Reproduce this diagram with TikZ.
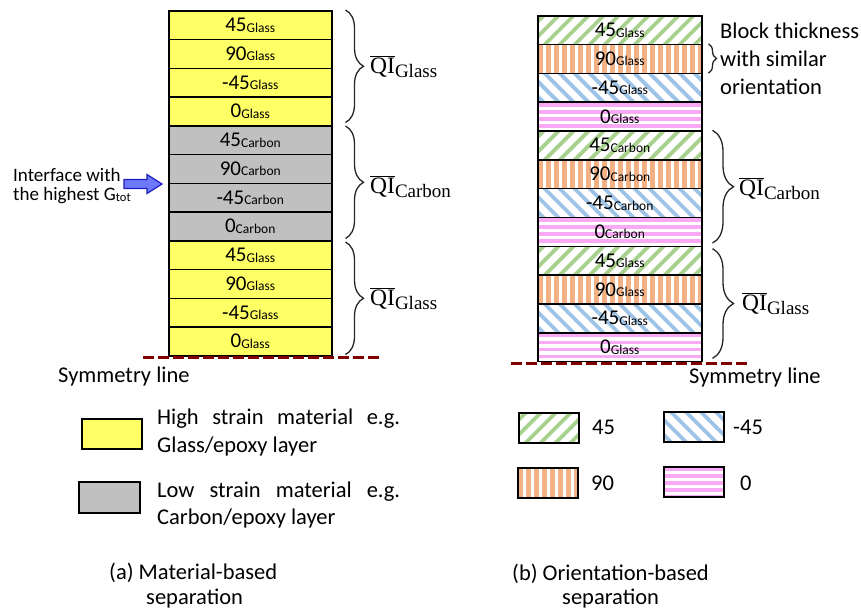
\documentclass[tikz,border=0pt]{standalone}
\usepackage{fontspec}
\setmainfont{Carlito}
\newfontfamily\qifont{Liberation Serif}
\usetikzlibrary{calc,decorations.pathreplacing}
\definecolor{glassY}{RGB}{255,255,102}
\definecolor{carbG}{RGB}{192,192,192}
\definecolor{grn}{RGB}{169,209,142}
\definecolor{org}{RGB}{244,177,131}
\definecolor{blu}{RGB}{157,195,230}
\definecolor{pnk}{RGB}{250,170,245}
\definecolor{symred}{RGB}{128,0,0}
\definecolor{arrfill}{RGB}{110,120,250}
\definecolor{arrdraw}{RGB}{30,30,190}
\newcommand\plylab[2]{{\fontsize{21}{21}\selectfont #1}{\fontsize{13.5}{13.5}\selectfont\raisebox{-0.5pt}{#2}}}
\newcommand\qilab[1]{{\qifont\fontsize{23.5}{23.5}\selectfont$\overline{\mbox{QI}}$}{\qifont\fontsize{19}{19}\selectfont\raisebox{-4pt}{#1}}}
\tikzset{
  ply/.style={draw=black, line width=1.5pt, minimum height=28.75pt, inner sep=0pt, anchor=north west},
  glassply/.style={fill=glassY},
  carbply/.style={fill=carbG},
  hA/.style={path picture={\foreach \k in {0,...,16} \draw[grn, line width=3.8pt] ($(path picture bounding box.south west)+(\k*15pt-40pt,-2pt)$) -- ++(60pt,60pt);}},
  hC/.style={path picture={\foreach \k in {0,...,16} \draw[blu, line width=3.8pt] ($(path picture bounding box.north west)+(\k*15pt-40pt,2pt)$) -- ++(60pt,-60pt);}},
  hB/.style={path picture={\foreach \k in {0,...,21} \draw[org, line width=5pt] ($(path picture bounding box.north west)+(\k*8pt+2.5pt,2pt)$) -- ++(0pt,-40pt);}},
  hD/.style={path picture={\foreach \k in {0,...,4} \draw[pnk, line width=3.6pt] ($(path picture bounding box.north west)+(-5pt,-\k*7pt-2.5pt)$) -- ++(180pt,0pt);}},
  legbox/.style={draw=black, line width=1.5pt, minimum width=60pt, minimum height=30pt, inner sep=0pt, anchor=north west},
  txt/.style={inner sep=0pt, anchor=base west, font=\fontsize{22.5}{27}\selectfont},
  itxt/.style={inner sep=0pt, anchor=base west, font=\fontsize{19}{22}\selectfont},
  qi/.style={inner sep=0pt, anchor=base west},
  brc/.style={decorate, decoration={brace, amplitude=#1}, line width=1.3pt, draw=black!85},
  symline/.style={draw=symred, line width=3pt, dash pattern=on 11pt off 4pt},
  blockarrow/.style={draw=arrdraw, fill=arrfill, line width=1.2pt, line join=miter}
}
\begin{document}
\begin{tikzpicture}[x=1pt,y=-1pt]
\useasboundingbox (0,0) rectangle (861,611);
% ---------- (a) material-based stack ----------
\foreach \ang/\mat/\sty [count=\i] in {45/Glass/glassply,90/Glass/glassply,-45/Glass/glassply,0/Glass/glassply,45/Carbon/carbply,90/Carbon/carbply,-45/Carbon/carbply,0/Carbon/carbply,45/Glass/glassply,90/Glass/glassply,-45/Glass/glassply,0/Glass/glassply}
  \node[ply,\sty,minimum width=163pt] (L\i) at (168,{10+(\i-1)*28.75}) {\raisebox{-2pt}{\plylab{\ang}{\mat}}};
\draw[symline] ([xshift=-25pt,yshift=-1pt]L12.south west) -- ([xshift=47pt,yshift=-1pt]L12.south east);
\draw[brc=18pt] ([xshift=13pt]L1.north east) -- ([xshift=13pt,yshift=4pt]L4.south east);
\draw[brc=18pt] ([xshift=13pt,yshift=-1pt]L5.north east) -- ([xshift=13pt,yshift=3pt]L8.south east);
\draw[brc=18pt] ([xshift=13pt,yshift=-2pt]L9.north east) -- ([xshift=13pt,yshift=2pt]L12.south east);
\node[qi] (qg1) at (370,73) {\qilab{Glass}};
\node[qi] (qc1) at (370,193) {\qilab{Carbon}};
\node[qi] (qg3) at (370,305) {\qilab{Glass}};
% interface arrow
\coordinate (tip) at ([xshift=-6pt]L6.south west);
\draw[blockarrow] (tip) -- ++(-15,-9.5) -- ++(0,5) -- ++(-23,0) -- ++(0,9) -- ++(23,0) -- ++(0,5) -- cycle;
\node[itxt] (if1) at (13,181) {Interface with};
\node[itxt] (if2) at (13,200) {the highest G{\fontsize{12.5}{12.5}\selectfont\raisebox{-1.5pt}{tot}}};
\node[txt] (sym1) at (58,382.5) {Symmetry line};
% legend (a)
\node[legbox,fill=glassY] (ky) at (81,418) {};
\node[legbox,fill=carbG,minimum width=61pt,minimum height=31pt] (kg) at (78,481) {};
\node[txt] (lg1a) at (157,424) {\makebox[243pt][s]{High strain material e.g.}};
\node[txt] (lg1b) at (157,452) {Glass/epoxy layer};
\node[txt] (lg2a) at (157,497) {\makebox[243pt][s]{Low strain material e.g.}};
\node[txt] (lg2b) at (157,524) {Carbon/epoxy layer};
\node[txt] (capa1) at (109,579) {(a) Material-based};
\node[txt] (capa2) at (146,604) {separation};
% ---------- (b) orientation-based stack ----------
\foreach \ang/\mat/\sty [count=\i] in {45/Glass/hA,90/Glass/hB,-45/Glass/hC,0/Glass/hD,45/Carbon/hA,90/Carbon/hB,-45/Carbon/hC,0/Carbon/hD,45/Glass/hA,90/Glass/hB,-45/Glass/hC,0/Glass/hD}
  \node[ply,\sty,minimum width=164pt] (R\i) at (537,{15+(\i-1)*28.83}) {\raisebox{-4.5pt}{\plylab{\ang}{\mat}}};
\draw[symline] ([xshift=-26pt,yshift=-1pt]R12.south west) -- ([xshift=47pt,yshift=-1pt]R12.south east);
\draw[brc=8pt] ([xshift=6pt]R2.north east) -- ([xshift=6pt,yshift=1pt]R2.south east);
\draw[brc=21pt] ([xshift=10pt]R5.north east) -- ([xshift=10pt,yshift=4pt]R8.south east);
\draw[brc=21pt] ([xshift=10pt,yshift=-3pt]R9.north east) -- ([xshift=10pt,yshift=4pt]R12.south east);
\node[txt] (bt1) at (720,38) {Block thickness};
\node[txt] (bt2) at (720,66) {with similar};
\node[txt] (bt3) at (720,94) {orientation};
\node[qi] (qc2) at (739,195) {\qilab{Carbon}};
\node[qi] (qg2) at (742,310) {\qilab{Glass}};
\node[txt] (sym2) at (689,383) {Symmetry line};
% legend (b)
\node[legbox,hA] (k45) at (518,412) {};
\node[legbox,hC] (km45) at (663,411) {};
\node[legbox,hB] (k90) at (517,467) {};
\node[legbox,hD] (k0) at (663,466) {};
\node[txt] (t45) at (592,434) {45};
\node[txt] (tm45) at (733,434) {-45};
\node[txt] (t90) at (591,490) {90};
\node[txt] (t0) at (740,490) {0};
\node[txt] (capb1) at (512,580) {(b) Orientation-based};
\node[txt] (capb2) at (562,604) {separation};
\end{tikzpicture}
\end{document}
